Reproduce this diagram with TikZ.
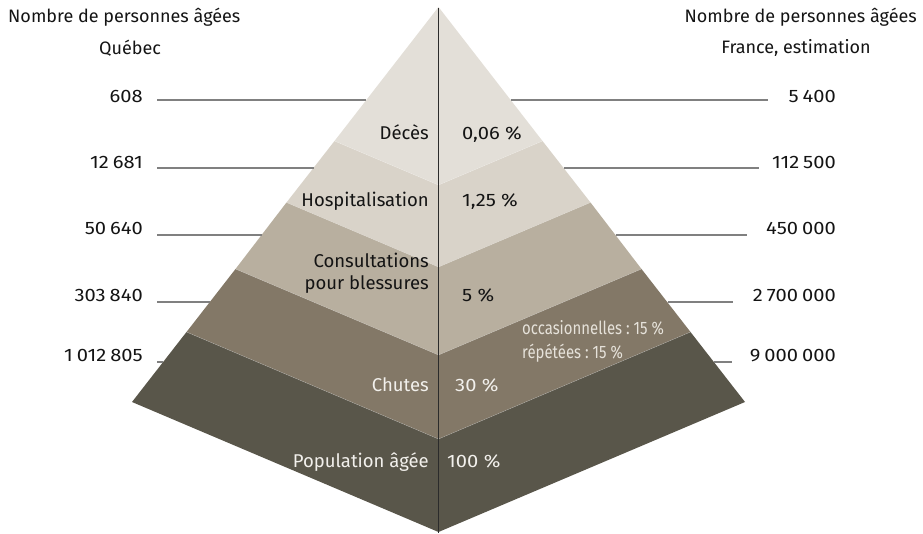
\documentclass[tikz,border=0pt]{standalone}
\usepackage{graphicx}
\usepackage{fontspec}
\setmainfont{Fira Sans}
\newfontfamily\numfont{Fira Sans}[FakeStretch=1.12]
\definecolor{b1}{HTML}{E3DFD8}
\definecolor{b2}{HTML}{D9D3C9}
\definecolor{b3}{HTML}{B8AF9F}
\definecolor{b4}{HTML}{837867}
\definecolor{b5}{HTML}{59564A}
\definecolor{leadc}{HTML}{808080}
\definecolor{axisc}{HTML}{2B2B2B}
\definecolor{txt}{HTML}{141414}
\definecolor{wtxt}{HTML}{F2F0EC}
\definecolor{ctxt}{HTML}{E6E2DA}
\newcommand{\ts}{\hspace{0.22em}}
\newcommand{\cnd}[1]{\scalebox{0.83}[1]{#1}}
\tikzset{
  lbl/.style={inner sep=0pt, text=txt, yshift=-3pt, font=\fontsize{18.5}{22}\selectfont},
  hdr/.style={lbl, font=\fontsize{18}{21}\selectfont},
  wlbl/.style={lbl, text=wtxt},
  pct/.style={lbl, font=\numfont\fontsize{18}{22}\selectfont, anchor=mid west},
  wpct/.style={pct, text=wtxt},
  num/.style={lbl, anchor=mid east, font=\numfont\fontsize{18}{22}\selectfont},
  cond/.style={lbl, text=ctxt, anchor=mid west, font=\fontsize{18}{22}\selectfont},
  leader/.style={draw=leadc, line width=1.2pt},
  band/.style={draw=white, draw opacity=0.35, line width=0.4pt}
}
\begin{document}
\begin{tikzpicture}[x=1pt,y=-1pt]
\useasboundingbox (0,0) rectangle (923,534);
% pyramid points
\coordinate (apex) at (438.5,7);
\coordinate (C1) at (438.5,185);
\coordinate (C2) at (438.5,267);
\coordinate (C3) at (438.5,355);
\coordinate (C4) at (438.5,439);
\coordinate (C5) at (438.5,532);
\coordinate (L1) at (334.5,141);
\coordinate (L2) at (286.5,202.5);
\coordinate (L3) at (235.5,269);
\coordinate (L4) at (186.5,332);
\coordinate (L5) at (132,402);
\coordinate (R1) at (542.5,141);
\coordinate (R2) at (590.5,202.5);
\coordinate (R3) at (641.5,269);
\coordinate (R4) at (690.5,332);
\coordinate (R5) at (745,402);
% bands
\fill[b1] (apex) -- (L1) -- (C1) -- (R1) -- cycle;
\fill[b2] (L1) -- (L2) -- (C2) -- (R2) -- (R1) -- (C1) -- cycle;
\fill[b3] (L2) -- (L3) -- (C3) -- (R3) -- (R2) -- (C2) -- cycle;
\fill[b4] (L3) -- (L4) -- (C4) -- (R4) -- (R3) -- (C3) -- cycle;
\fill[b5] (L4) -- (L5) -- (C5) -- (R5) -- (R4) -- (C4) -- cycle;
\foreach \i in {1,2,3,4}{\draw[band] (L\i) -- (C\i) -- (R\i);}
% central axis
\coordinate (axtop) at (438.5,8);
\coordinate (axbot) at (438.5,533);
\draw[axisc, line width=1.4pt] (axtop) -- (axbot);
% headers
\node[hdr, anchor=mid west] (hq) at (8,17) {Nombre de personnes âgées};
\node[hdr] (hq2) at (130,45) {Québec};
\node[hdr, anchor=mid east] (hf) at (917,17) {Nombre de personnes âgées};
\node[hdr] (hf2) at (796,45) {France, estimation};
% left numbers
\node[num] (nq1) at (143,97) {608};
\node[num] (nq2) at (143,163) {12\ts 681};
\node[num] (nq3) at (143,229) {50\ts 640};
\node[num] (nq4) at (143,296) {303\ts 840};
\node[num] (nq5) at (143,356) {1\ts 012\ts 805};
% right numbers
\node[num] (nf1) at (836,97) {5\ts 400};
\node[num] (nf2) at (836,163) {112\ts 500};
\node[num] (nf3) at (836,229) {450\ts 000};
\node[num] (nf4) at (836,296) {2\ts 700\ts 000};
\node[num] (nf5) at (836,356) {9\ts 000\ts 000};
% leader lines left
\coordinate (ql1) at (157,100); \coordinate (el1) at (366,100);
\coordinate (ql2) at (157,168); \coordinate (el2) at (313.5,168);
\coordinate (ql3) at (157,235); \coordinate (el3) at (261.5,235);
\coordinate (ql4) at (157,302); \coordinate (el4) at (209.5,302);
\coordinate (ql5) at (157,362); \coordinate (el5) at (163,362);
\foreach \i in {1,...,5}{\draw[leader] (ql\i) -- (el\i);}
% leader lines right
\coordinate (er1) at (510.5,100); \coordinate (fr1) at (768,100);
\coordinate (er2) at (563.5,168); \coordinate (fr2) at (759,168);
\coordinate (er3) at (615.5,235); \coordinate (fr3) at (747,235);
\coordinate (er4) at (667.5,302); \coordinate (fr4) at (733,302);
\coordinate (er5) at (714,362); \coordinate (fr5) at (732,362);
\foreach \i in {1,...,5}{\draw[leader] (er\i) -- (fr\i);}
% band labels
\node[lbl, anchor=mid east] (ldeces) at (429,134) {Décès};
\node[pct] (pdeces) at (462,134) {0,06~\%};
\node[lbl, anchor=mid east] (lhosp) at (429,201) {Hospitalisation};
\node[pct] (phosp) at (462,201) {1,25~\%};
\node[lbl, anchor=mid east] (lcons1) at (429,262) {Consultations};
\node[lbl, anchor=mid east] (lcons2) at (429,284) {pour blessures};
\node[pct] (pcons) at (462,296) {5~\%};
\node[wlbl, anchor=mid east] (lchutes) at (429,386) {Chutes};
\node[wpct] (pchutes) at (455,386) {30~\%};
\node[cond] (occ) at (522,329) {\cnd{occasionnelles~:~15~\%}};
\node[cond] (rep) at (522,353) {\cnd{répétées~:~15~\%}};
\node[wlbl, anchor=mid east] (lpop) at (429,462) {Population âgée};
\node[wpct] (ppop) at (447,462) {100~\%};
\end{tikzpicture}
\end{document}
